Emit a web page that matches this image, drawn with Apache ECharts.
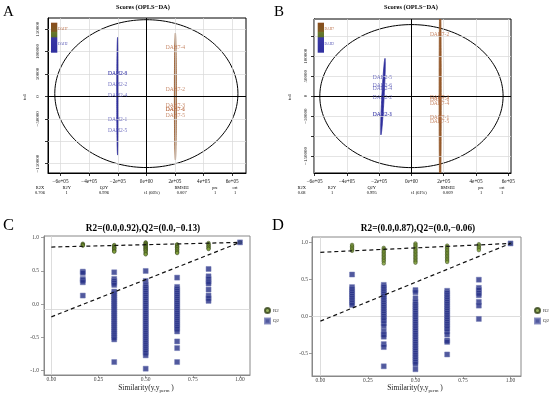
<!DOCTYPE html>
<html><head><meta charset="utf-8">
<script src="https://cdn.jsdelivr.net/npm/echarts@6/dist/echarts.min.js"></script>
<style>html,body{margin:0;padding:0;background:#fff}#c{width:550px;height:396px}</style>
</head><body><div id="c"></div>
<script>
// ---------------- DATA ----------------
// Score plots (A, B)
const scoreXTicks = [-600000, -400000, -200000, 0, 200000, 400000, 600000];
const scoreXLabels = ['\u22126e+05', '\u22124e+05', '\u22122e+05', '0e+00', '2e+05', '4e+05', '6e+05'];
const scoreYTicks = [-150000, -100000, -50000, 0, 50000, 100000, 150000];
const aYLabelTicks = [-150000, -50000, 0, 50000, 100000, 150000];
const bYLabelTicks = [-150000, -50000, 0, 50000, 100000];

const aDAH2Names = ['DAH2-3', 'DAH2-6', 'DAH2-2', 'DAH2-4', 'DAH2-1', 'DAH2-5'];
const aDAH2X = [-201000, -201000, -201000, -201000, -201000, -201000];
const aDAH2Y = [51000, 51000, 26700, 2900, -52700, -75500];
const aDAH7Names = ['DAH7-4', 'DAH7-2', 'DAH7-3', 'DAH7-1', 'DAH7-6', 'DAH7-5'];
const aDAH7X = [203000, 203000, 203000, 203000, 203000, 203000];
const aDAH7Y = [110000, 15500, -20000, -30400, -30400, -42200];

const bDAH2Names = ['DAH2-5', 'DAH2-6', 'DAH2-4', 'DAH2-2', 'DAH2-3', 'DAH2-1'];
const bDAH2X = [-180000, -180000, -180000, -180000, -180000, -180000];
const bDAH2Y = [47500, 26500, 18000, -2500, -46700, -46700];
const bDAH7Names = ['DAH7-2', 'DAH7-3', 'DAH7-6', 'DAH7-4', 'DAH7-1', 'DAH7-5'];
const bDAH7X = [174000, 174000, 174000, 174000, 174000, 174000];
const bDAH7Y = [155000, -4000, -8000, -17500, -52500, -64000];

// ellipses: [centerX, centerY, semiX, semiY, lean]
const aT2Ellipse = [0, 6200, 640500, 165000, 0];
const aDAH2Ellipse = [-201000, 400, 6000, 131400, 0];
const aDAH7Ellipse = [203000, -250, 7000, 141750, 0];
const bT2Ellipse = [0, 0, 568000, 179000, 0];
const bDAH2Ellipse = [-176500, -1300, 7000, 95700, 12500];
const bDAH7Ellipse = [178000, 0, 6500, 260000, 0];

const aStatsHead = ['R2X', 'R2Y', 'Q2Y', 'RMSEE', 'pre', 'ort'];
const aStatsVals = ['0.706', '1', '0.996', '0.007', '1', '1'];
const bStatsVals = ['0.68', '1', '0.995', '0.009', '1', '1'];
const aXTitle = 't1 (66%)';
const bXTitle = 't1 (61%)';

// Permutation plots (C, D)
const simX = [0.1667, 0.3333, 0.5, 0.6667, 0.8333, 1.0];
const permXTicks = [0, 0.25, 0.5, 0.75, 1];
const permXLabels = ['0.00', '0.25', '0.50', '0.75', '1.00'];
const cYTicks = [-1, -0.5, 0, 0.5, 1];
const dYTicks = [-0.5, 0, 0.5, 1];

const cR2Cols = [
  [0.91, 0.90, 0.89, 0.88],
  [0.89, 0.88, 0.86, 0.85, 0.84, 0.83, 0.81, 0.80, 0.79],
  [0.93, 0.92, 0.91, 0.90, 0.89, 0.88, 0.87, 0.86, 0.85, 0.84, 0.83, 0.82, 0.81, 0.80, 0.78, 0.76, 0.75],
  [0.90, 0.89, 0.87, 0.86, 0.85, 0.83, 0.82, 0.80, 0.78, 0.77],
  [0.92, 0.90, 0.89, 0.87, 0.86, 0.84, 0.83],
  [0.93]
];
const cQ2Cols = [
  [0.49, 0.47, 0.38, 0.36, 0.33, 0.13],
  [0.48, 0.38, 0.35, 0.32, 0.29, 0.19, 0.16, 0.13, 0.10, 0.07, 0.04, 0.01, -0.02, -0.05, -0.08, -0.11, -0.14, -0.17, -0.20, -0.23, -0.26, -0.29, -0.32, -0.35, -0.38, -0.41, -0.44, -0.47, -0.50, -0.53, -0.87],
  [0.50, 0.35, 0.29, 0.26, 0.23, 0.20, 0.17, 0.14, 0.11, 0.08, 0.05, 0.02, -0.01, -0.04, -0.07, -0.10, -0.13, -0.16, -0.19, -0.22, -0.25, -0.28, -0.31, -0.34, -0.37, -0.40, -0.43, -0.46, -0.49, -0.52, -0.55, -0.58, -0.61, -0.64, -0.67, -0.70, -0.73, -0.77, -0.97],
  [0.40, 0.26, 0.23, 0.20, 0.17, 0.14, 0.11, 0.08, 0.05, 0.02, -0.01, -0.04, -0.07, -0.10, -0.13, -0.16, -0.19, -0.22, -0.25, -0.28, -0.31, -0.34, -0.37, -0.41, -0.56, -0.66, -0.87],
  [0.53, 0.42, 0.38, 0.34, 0.31, 0.22, 0.13, 0.09, 0.05],
  [0.93]
];
const cR2Line = [[0, 0.86], [1, 0.93]];
const cQ2Line = [[0, -0.19], [1, 0.93]];
const cRefY = -0.07;

const dR2Cols = [
  [0.97, 0.95, 0.93, 0.91, 0.89],
  [0.93, 0.91, 0.89, 0.87, 0.85, 0.83, 0.81, 0.79, 0.77, 0.75, 0.72],
  [0.99, 0.97, 0.95, 0.93, 0.91, 0.89, 0.87, 0.85, 0.83, 0.81, 0.79, 0.77, 0.75, 0.73],
  [0.96, 0.94, 0.92, 0.90, 0.88, 0.86, 0.84, 0.82, 0.80, 0.78, 0.76, 0.74],
  [0.98, 0.96, 0.94, 0.92, 0.90],
  [0.99]
];
const dQ2Cols = [
  [0.57, 0.40, 0.37, 0.34, 0.31, 0.28, 0.25, 0.22, 0.19, 0.16],
  [0.43, 0.40, 0.37, 0.34, 0.31, 0.28, 0.25, 0.22, 0.19, 0.16, 0.13, 0.10, 0.07, 0.04, 0.01, -0.02, -0.05, -0.09, -0.13, -0.20, -0.24, -0.27, -0.37, -0.41, -0.67],
  [0.36, 0.33, 0.25, 0.20, 0.17, 0.14, 0.11, 0.08, 0.05, 0.02, -0.01, -0.04, -0.07, -0.10, -0.13, -0.16, -0.19, -0.22, -0.25, -0.28, -0.31, -0.34, -0.37, -0.40, -0.43, -0.46, -0.49, -0.52, -0.55, -0.58, -0.61, -0.64, -0.71],
  [0.35, 0.32, 0.29, 0.26, 0.23, 0.20, 0.17, 0.14, 0.11, 0.08, 0.05, 0.02, -0.01, -0.04, -0.07, -0.10, -0.13, -0.16, -0.20, -0.24, -0.32, -0.34, -0.51],
  [0.50, 0.39, 0.36, 0.32, 0.29, 0.20, 0.15, -0.03],
  [0.99]
];
const dR2Line = [[0, 0.87], [1, 0.99]];
const dQ2Line = [[0, -0.06], [1, 0.99]];
const dRefY = 0;

const cTitle = 'R2=(0.0,0.92),Q2=(0.0,\u22120.13)';
const dTitle = 'R2=(0.0,0.87),Q2=(0.0,\u22120.06)';

// ---------------- BUILD ----------------
const serif = '"Liberation Serif", "DejaVu Serif", serif';
const BLUE = '#2e2e9c', BROWN = '#94582a';
const BLUE_T = '#4b4bb0', BROWN_T = '#b8683e';

function ellipsePts(e) {
  const pts = [];
  const N = 180;
  for (let i = 0; i <= N; i++) {
    const t = 2 * Math.PI * i / N;
    pts.push([e[0] + e[2] * Math.cos(t) + e[4] * Math.sin(t), e[1] + e[3] * Math.sin(t)]);
  }
  return pts;
}
function colPts(cols) {
  const out = [];
  cols.forEach((c, i) => c.forEach(v => out.push([simX[i], v])));
  return out;
}
function fmtFrom(ticks, labels) {
  return v => { const i = ticks.findIndex(t => Math.abs(t - v) < 1e-6); return i >= 0 ? labels[i] : ''; };
}

const grids = [
  {left: 48, top: 18, width: 198, height: 155},
  {left: 314, top: 19, width: 197, height: 154},
  {left: 44, top: 236, width: 206, height: 139},
  {left: 312, top: 237, width: 209, height: 139}
].map((g, i) => Object.assign(g, {show: true, borderColor: i < 2 ? '#000' : '#888', borderWidth: 1, containLabel: false, outerBoundsMode: 'none'}));

function xAx(gi, min, max, ticks, fmt, o) {
  return {type: 'value', gridIndex: gi, min, max, position: 'bottom',
    axisLine: {show: true, onZero: false, lineStyle: {color: o.frame, width: 1}},
    axisTick: {show: true, length: 3, customValues: ticks, lineStyle: {color: o.frame, width: 0.8}},
    axisLabel: {show: true, customValues: o.labelTicks || ticks, formatter: fmt, fontSize: o.fs, fontFamily: serif, color: o.lc, margin: o.margin},
    splitLine: {show: false}};
}
function yAx(gi, min, max, ticks, fmt, o) {
  return {type: 'value', gridIndex: gi, min, max, position: 'left',
    axisLine: {show: true, onZero: false, lineStyle: {color: o.frame, width: 1}},
    axisTick: {show: true, length: 3, customValues: ticks, lineStyle: {color: o.frame, width: 0.8}},
    axisLabel: {show: true, customValues: o.labelTicks || ticks, formatter: fmt, rotate: o.rotate || 0, fontSize: o.fs, fontFamily: serif, color: o.lc, margin: o.margin},
    splitLine: {show: false}};
}
const scoreXFmt = fmtFrom(scoreXTicks, scoreXLabels);
const scoreYFmt = v => v < 0 ? '\u2212' + Math.abs(v) : String(v);
const permXFmt = fmtFrom(permXTicks, permXLabels);
const permYFmt = v => (v < 0 ? '-' : '') + Math.abs(v).toFixed(1);

const xAxis = [
  xAx(0, -688000, 697000, scoreXTicks, scoreXFmt, {frame: '#000', fs: 5.2, lc: '#111', margin: 6}),
  xAx(1, -604000, 617000, scoreXTicks, scoreXFmt, {frame: '#000', fs: 5.2, lc: '#111', margin: 6}),
  xAx(2, -0.039, 1.053, permXTicks, permXFmt, {frame: '#888', fs: 5.5, lc: '#444', margin: 2}),
  xAx(3, -0.044, 1.055, permXTicks, permXFmt, {frame: '#888', fs: 5.5, lc: '#444', margin: 2})
];
const yAxis = [
  yAx(0, -171000, 175000, scoreYTicks, scoreYFmt, {frame: '#000', fs: 5, lc: '#111', margin: 8, rotate: 90, labelTicks: aYLabelTicks}),
  yAx(1, -192500, 193000, scoreYTicks, scoreYFmt, {frame: '#000', fs: 5, lc: '#111', margin: 6, rotate: 90, labelTicks: bYLabelTicks}),
  yAx(2, -1.065, 1.026, cYTicks, permYFmt, {frame: '#888', fs: 5.5, lc: '#444', margin: 5}),
  yAx(3, -0.801, 1.077, dYTicks, permYFmt, {frame: '#888', fs: 5.5, lc: '#444', margin: 4})
];

const series = [];
function gridLines(ai, xt, yt) {
  series.push({type: 'line', xAxisIndex: ai, yAxisIndex: ai, data: [], silent: true, z: 1,
    markLine: {silent: true, symbol: ['none', 'none'], animation: false, label: {show: false},
      lineStyle: {color: '#d8d8d8', width: 0.7, type: 'solid'},
      data: xt.map(v => ({xAxis: v})).concat(yt.map(v => ({yAxis: v})))}});
}
function ellSeries(ai, e, color, width) {
  series.push({type: 'line', xAxisIndex: ai, yAxisIndex: ai, data: ellipsePts(e), showSymbol: false, symbol: 'none',
    lineStyle: {color, width}, silent: true, clip: true, z: 3, animation: false});
}
function fillEll(ai, e, color) {
  const pts = ellipsePts(e);
  series.push({type: 'custom', xAxisIndex: ai, yAxisIndex: ai, data: [[e[0], e[1]]], clip: true, silent: true, z: 4, animation: false,
    renderItem: (params, api) => ({type: 'polygon', shape: {points: pts.map(p => api.coord(p))},
      style: {fill: color, stroke: color, lineWidth: 0.8}})});
}
function labelSeries(ai, xs, ys, names, color) {
  series.push({type: 'scatter', xAxisIndex: ai, yAxisIndex: ai, symbol: 'circle', symbolSize: 0,
    itemStyle: {color: 'rgba(0,0,0,0)'},
    data: names.map((n, i) => [xs[i], ys[i], n]), silent: true, z: 6, animation: false,
    label: {show: true, position: 'inside', formatter: p => p.data[2], fontSize: 5.5, fontFamily: serif, color}});
}
function crossLines(ai, color, yv, w) {
  series.push({type: 'line', xAxisIndex: ai, yAxisIndex: ai, data: [], silent: true, z: 2,
    markLine: {silent: true, symbol: ['none', 'none'], animation: false, label: {show: false},
      lineStyle: {color, width: w, type: 'solid'}, data: [{xAxis: 0}, {yAxis: yv}]}});
}

// A
gridLines(0, scoreXTicks, scoreYTicks);
crossLines(0, '#000', 0, 1);
ellSeries(0, aT2Ellipse, '#000', 1);
fillEll(0, aDAH2Ellipse, BLUE);
fillEll(0, aDAH7Ellipse, BROWN);
labelSeries(0, aDAH2X, aDAH2Y, aDAH2Names, BLUE_T);
labelSeries(0, aDAH7X, aDAH7Y, aDAH7Names, BROWN_T);
// B
gridLines(1, scoreXTicks, scoreYTicks);
crossLines(1, '#000', 0, 1);
ellSeries(1, bT2Ellipse, '#000', 1);
fillEll(1, bDAH2Ellipse, BLUE);
fillEll(1, bDAH7Ellipse, BROWN);
labelSeries(1, bDAH2X, bDAH2Y, bDAH2Names, BLUE_T);
labelSeries(1, bDAH7X, bDAH7Y, bDAH7Names, BROWN_T);

// C, D
function permPanel(ai, r2c, q2c, r2l, q2l, refY) {
  crossLines(ai, '#d4d4d4', refY, 0.8);
  series.push({name: 'R2', type: 'scatter', xAxisIndex: ai, yAxisIndex: ai, data: colPts(r2c), symbol: 'circle', symbolSize: 3.6,
    itemStyle: {color: '#7f9f3a', borderColor: '#2f3f14', borderWidth: 0.6}, z: 4, animation: false});
  series.push({name: 'Q2', type: 'scatter', xAxisIndex: ai, yAxisIndex: ai, data: colPts(q2c), symbol: 'rect', symbolSize: 5,
    itemStyle: {color: '#262f86', borderColor: '#7078b4', borderWidth: 0.6}, z: 5, animation: false});
  [r2l, q2l].forEach(l => series.push({type: 'line', xAxisIndex: ai, yAxisIndex: ai, data: l, symbol: 'none', silent: true, z: 6, animation: false,
    lineStyle: {color: '#111', width: 1.2, type: [4, 3]}}));
}
permPanel(2, cR2Cols, cQ2Cols, cR2Line, cQ2Line, cRefY);
permPanel(3, dR2Cols, dQ2Cols, dR2Line, dQ2Line, dRefY);

const legendBase = {orient: 'vertical', itemWidth: 5, itemHeight: 5, itemGap: 3.5, selectedMode: false,
  textStyle: {fontSize: 5, fontFamily: serif, color: '#333', padding: [0, 0, 0, -2]},
  data: [{name: 'R2', icon: 'circle'}, {name: 'Q2', icon: 'rect'}]};
const legend = [
  Object.assign({}, legendBase, {left: 259, top: 302}),
  Object.assign({}, legendBase, {left: 529, top: 302})
];

// graphic texts
const G = [];
function txt(x, y, text, fs, opt) {
  opt = opt || {};
  G.push({type: 'text', x, y, rotation: opt.rot || 0, silent: true, z: 100,
    style: {text, fontSize: fs, fontFamily: serif, fontWeight: opt.bold ? 'bold' : 'normal', fill: opt.color || '#000',
      align: opt.align || 'center', verticalAlign: 'middle', rich: opt.rich}});
}
txt(3, 12, 'A', 15, {align: 'left'});
txt(274, 12, 'B', 15, {align: 'left'});
txt(3, 226, 'C', 16.5, {align: 'left'});
txt(272, 226, 'D', 16.5, {align: 'left'});
txt(143, 7, 'Scores (OPLS\u2212DA)', 6.5, {bold: true});
txt(411, 7, 'Scores (OPLS\u2212DA)', 6.5, {bold: true});
txt(143, 229, cTitle, 9.3, {bold: true});
txt(418, 229, dTitle, 9.3, {bold: true});
txt(25, 97, 'to1', 4.8, {rot: Math.PI / 2});
txt(290, 97, 'to1', 4.8, {rot: Math.PI / 2});

const aStatX = [40, 66.7, 104, 181.7, 215, 235];
const bStatX = [301.7, 332, 371.7, 447.7, 481, 502];
aStatsHead.forEach((h, i) => { txt(aStatX[i], 188, h, 4.4); txt(bStatX[i], 188, h, 4.4); });
aStatsVals.forEach((v, i) => txt(aStatX[i], 192.6, v, 4.4));
bStatsVals.forEach((v, i) => txt(bStatX[i], 192.6, v, 4.4));
txt(152, 192.6, aXTitle, 4.4);
txt(419, 192.6, bXTitle, 4.4);

const simRich = {m: {fontSize: 7.5, fontFamily: serif, lineHeight: 10, verticalAlign: 'middle', fill: '#222'},
  s: {fontSize: 4.8, fontFamily: serif, lineHeight: 10, verticalAlign: 'bottom', fill: '#222'}};
txt(146, 388, '{m|Similarity(y,y}{s|perm}{m| )}', 7.5, {rich: simRich});
txt(415, 388, '{m|Similarity(y,y}{s|perm}{m| )}', 7.5, {rich: simRich});

// group colour keys
function key(x0, lx) {
  G.push({type: 'rect', silent: true, z: 90, shape: {x: x0, y: 22.7, width: 6.3, height: 30},
    style: {fill: new echarts.graphic.LinearGradient(0, 0, 0, 1, [
      {offset: 0, color: '#8a4c1c'}, {offset: 0.29, color: '#7e5a22'}, {offset: 0.31, color: '#6a7a2a'},
      {offset: 0.48, color: '#5a6e2c'}, {offset: 0.5, color: '#3a38a4'}, {offset: 1, color: '#2f2fa0'}])}});
  txt(lx, 29, 'DAH7', 3.6, {align: 'left', color: BROWN_T});
  txt(lx, 44, 'DAH2', 3.6, {align: 'left', color: BLUE_T});
}
key(51, 58);
key(317.7, 324.5);

const chart = echarts.init(document.getElementById('c'), null, {renderer: 'canvas', width: 550, height: 396});
chart.setOption({animation: false, backgroundColor: '#fff', grid: grids, xAxis, yAxis, series, legend, graphic: G});
</script>
</body></html>
